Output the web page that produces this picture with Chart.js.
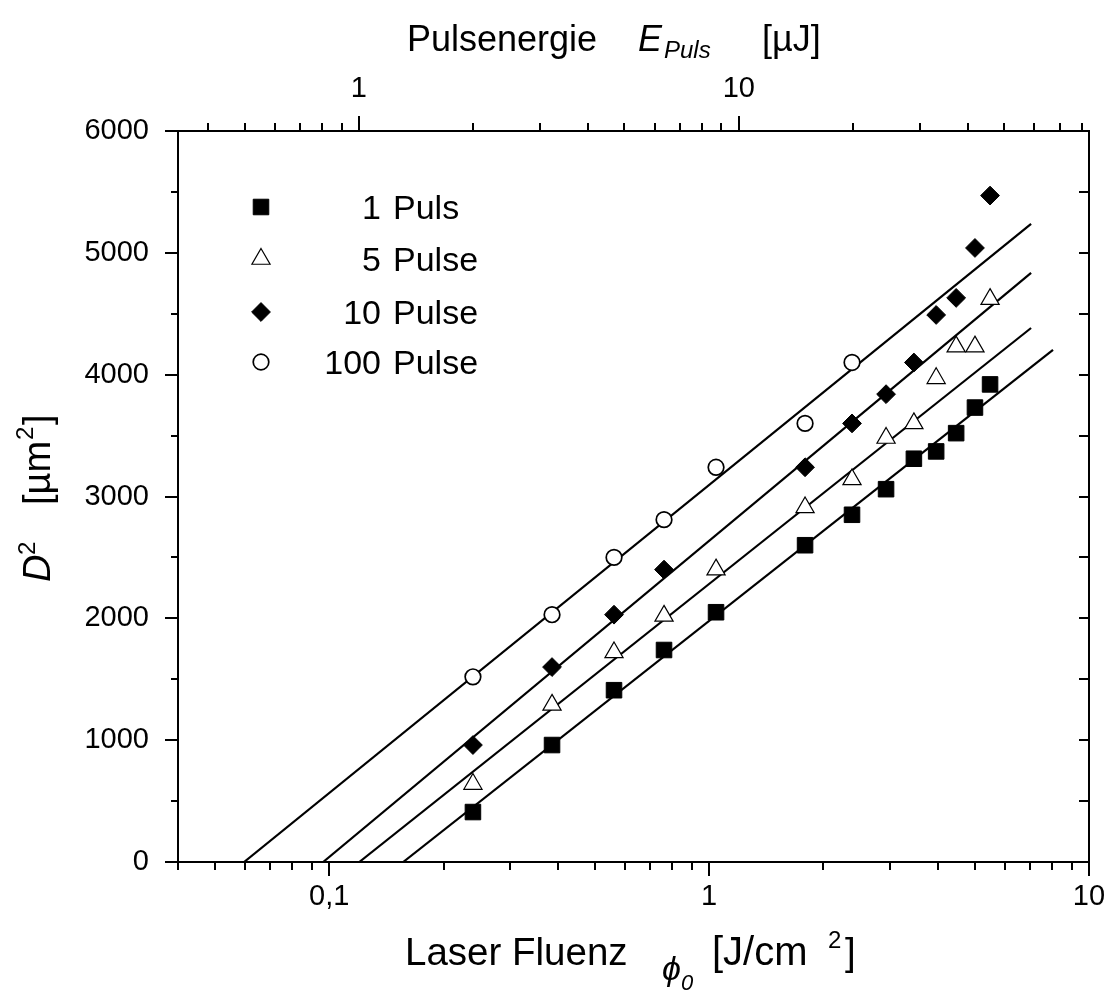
<!DOCTYPE html>
<html><head><meta charset="utf-8">
<script src="https://cdn.jsdelivr.net/npm/chart.js@4.4.1/dist/chart.umd.min.js"></script>
<style>html,body{margin:0;padding:0;background:#fff;}</style>
</head><body>
<canvas id="c" width="1112" height="998"></canvas>
<script>
// ---------- data ----------
const fluence      = [0.239, 0.386, 0.562, 0.761, 1.043, 1.789, 2.378, 2.923, 3.46, 3.96, 4.47, 5.01, 5.49];
const d2Puls1      = [410, 960, 1410, 1740, 2050, 2600, 2850, 3060, 3310, 3370, 3520, 3730, 3920];
const d2Pulse5     = [640, 1290, 1720, 2020, 2400, 2910, 3140, 3480, 3600, 3970, 4230, 4230, 4620];
const d2Pulse10    = [960, 1600, 2030, 2400, null, 3240, 3600, 3840, 4100, 4490, 4630, 5040, 5470];
const d2Pulse100   = [1520, 2030, 2500, 2810, 3240, 3600, 4100];
const seriesNames  = ['1 Puls', '5 Pulse', '10 Pulse', '100 Pulse'];

// fitted lines (start / end points)
const fitX1   = [0.1566, 8.04];  const fitY1   = [0, 4203];
const fitX5   = [0.120, 7.04];   const fitY5   = [0, 4383];
const fitX10  = [0.0964, 7.04];  const fitY10  = [0, 4835];
const fitX100 = [0.0597, 7.04];  const fitY100 = [0, 5237];

// axes
const xMin = 0.04, xMax = 10;
const energyPerFluence = 8.35;     // µJ per (J/cm²)
const xMajorTicks  = [0.1, 1, 10];
const xMajorLabels = ['0,1', '1', '10'];
const xMinorTicks  = [0.04,0.05,0.06,0.07,0.08,0.09,0.2,0.3,0.4,0.5,0.6,0.7,0.8,0.9,2,3,4,5,6,7,8,9];
const topMajorTicks  = [1, 10];
const topMajorLabels = ['1', '10'];
const topMinorTicks  = [0.4,0.5,0.6,0.7,0.8,0.9,2,3,4,5,6,7,8,9,20,30,40,50,60,70,80];
const yMajorTicks  = [0, 1000, 2000, 3000, 4000, 5000, 6000];
const yMajorLabels = ['0', '1000', '2000', '3000', '4000', '5000', '6000'];
const yMinorTicks  = [500, 1500, 2500, 3500, 4500, 5500];

// ---------- helpers ----------
const FONT = "'Liberation Sans', Arial, Helvetica, sans-serif";
const pts = (xs, ys) => xs.map((x, i) => ({x, y: ys[i]})).filter(p => p.y !== null && p.y !== undefined);

function markerDs(label, data, style, radius, fill, bw) {
  return { label, data, showLine: false, pointStyle: style, pointRadius: radius,
    pointBackgroundColor: fill, pointBorderColor: '#000', pointBorderWidth: bw, order: 0 };
}
function fitDs(xs, ys) {
  return { label: '', data: pts(xs, ys), type: 'line', showLine: true, pointRadius: 0,
    borderColor: '#000', borderWidth: 2.2, fill: false, order: 1 };
}

function drawMarker(ctx, style, x, y, r, fill, bw) {
  ctx.beginPath();
  if (style === 'rect') { const s = r * Math.SQRT1_2; ctx.rect(x - s, y - s, 2 * s, 2 * s); }
  else if (style === 'rectRot') { ctx.moveTo(x - r, y); ctx.lineTo(x, y - r); ctx.lineTo(x + r, y); ctx.lineTo(x, y + r); ctx.closePath(); }
  else if (style === 'triangle') {
    for (let k = 0; k < 3; k++) { const a = k * 2 * Math.PI / 3; const px = x + Math.sin(a) * r, py = y - Math.cos(a) * r; k ? ctx.lineTo(px, py) : ctx.moveTo(px, py); }
    ctx.closePath();
  } else { ctx.arc(x, y, r, 0, Math.PI * 2); }
  ctx.fillStyle = fill; ctx.fill();
  ctx.lineWidth = bw; ctx.strokeStyle = '#000'; ctx.stroke();
}
function txt(ctx, s, x, y, size, italic, align) {
  ctx.font = (italic ? 'italic ' : '') + size + 'px ' + FONT;
  ctx.textAlign = align || 'left'; ctx.textBaseline = 'alphabetic'; ctx.fillStyle = '#000';
  ctx.fillText(s, x, y);
  return x + ctx.measureText(s).width;
}

const decor = {
  id: 'decor',
  afterDraw(chart) {
    const {ctx, chartArea: a, scales} = chart;
    ctx.save();
    ctx.strokeStyle = '#000'; ctx.lineWidth = 2; ctx.lineCap = 'butt';
    const line = (x0, y0, x1, y1) => { ctx.beginPath(); ctx.moveTo(x0, y0); ctx.lineTo(x1, y1); ctx.stroke(); };
    // bottom ticks (outward)
    xMajorTicks.forEach(v => { const p = Math.round(scales.x.getPixelForValue(v)); line(p, a.bottom, p, a.bottom + 14); });
    xMinorTicks.forEach(v => { const p = Math.round(scales.x.getPixelForValue(v)); line(p, a.bottom, p, a.bottom + 8); });
    // top ticks (outward)
    topMajorTicks.forEach(v => { const p = Math.round(scales.x2.getPixelForValue(v)); line(p, a.top, p, a.top - 15); });
    topMinorTicks.forEach(v => { const p = Math.round(scales.x2.getPixelForValue(v)); line(p, a.top, p, a.top - 8); });
    // left ticks (outward)
    yMajorTicks.forEach(v => { const p = Math.round(scales.y.getPixelForValue(v)); line(a.left, p, a.left - 13, p); });
    yMinorTicks.forEach(v => { const p = Math.round(scales.y.getPixelForValue(v)); line(a.left, p, a.left - 7, p); });
    // right ticks (inward)
    yMajorTicks.concat(yMinorTicks).forEach(v => { const p = Math.round(scales.y2.getPixelForValue(v)); line(a.right, p, a.right - 10, p); });

    // legend
    const lys = [207, 259, 312, 362];
    chart.data.datasets.forEach((ds, i) => {
      if (i > 3) return;
      drawMarker(ctx, ds.pointStyle, 261, lys[i], ds.pointRadius, ds.pointBackgroundColor, ds.pointBorderWidth);
      const parts = ds.label.split(' ');
      txt(ctx, parts[0], 381, lys[i] + 12, 34, false, 'right');
      txt(ctx, parts[1], 393, lys[i] + 12, 34, false, 'left');
    });

    // top title
    txt(ctx, 'Pulsenergie', 407, 51, 36, false);
    txt(ctx, 'E', 638, 51, 36, true);
    txt(ctx, 'Puls', 664, 58, 24, true);
    txt(ctx, '[µJ]', 762, 51, 36, false);

    // bottom title
    txt(ctx, 'Laser Fluenz', 405, 965, 38.5, false);
    txt(ctx, 'ϕ', 662, 980, 34, true);
    txt(ctx, '0', 681, 990, 22, true);
    txt(ctx, '[J/cm', 712, 965, 40, false);
    txt(ctx, '2', 828, 948, 24, false);
    txt(ctx, ']', 845, 965, 38.5, false);

    // y title (rotated)
    ctx.save();
    ctx.translate(50, 582);
    ctx.rotate(-Math.PI / 2);
    txt(ctx, 'D', 0, 0, 38, true);
    txt(ctx, '2', 27, -15, 24, false);
    txt(ctx, '[µm', 77, 0, 38, false);
    txt(ctx, '2', 142, -17, 24, false);
    txt(ctx, ']', 157, 0, 38, false);
    ctx.restore();

    ctx.restore();
  }
};

const axisBorder = {display: true, color: '#000', width: 2};
const noGrid = {drawOnChartArea: false, drawTicks: false};
const zeroSidePad = s => { s.paddingLeft = 0; s.paddingRight = 0; };
const zeroVertPad = s => { s.paddingTop = 0; s.paddingBottom = 0; };

new Chart(document.getElementById('c'), {
  type: 'scatter',
  data: {
    datasets: [
      markerDs(seriesNames[0], pts(fluence, d2Puls1), 'rect', 11, '#000', 1),
      markerDs(seriesNames[1], pts(fluence, d2Pulse5), 'triangle', 10.5, '#fff', 1.2),
      markerDs(seriesNames[2], pts(fluence, d2Pulse10), 'rectRot', 9.4, '#000', 1),
      markerDs(seriesNames[3], pts(fluence, d2Pulse100), 'circle', 7.8, '#fff', 1.7),
      fitDs(fitX1, fitY1), fitDs(fitX5, fitY5), fitDs(fitX10, fitY10), fitDs(fitX100, fitY100)
    ]
  },
  options: {
    responsive: false, animation: false, devicePixelRatio: 1,
    layout: {padding: 0},
    plugins: {legend: {display: false}, tooltip: {enabled: false}},
    scales: {
      x: {
        type: 'logarithmic', position: 'bottom', min: xMin, max: xMax, bounds: 'data',
        afterBuildTicks: s => { s.ticks = xMajorTicks.map(v => ({value: v})); },
        afterFit: s => { s.height = 136; zeroSidePad(s); },
        ticks: {autoSkip: false, maxRotation: 0, minRotation: 0, padding: 18, color: '#000',
          font: {family: FONT, size: 29}, callback: (v, i) => xMajorLabels[i]},
        grid: noGrid, border: axisBorder
      },
      x2: {
        type: 'logarithmic', position: 'top', bounds: 'data',
        min: xMin * energyPerFluence, max: xMax * energyPerFluence,
        afterBuildTicks: s => { s.ticks = topMajorTicks.map(v => ({value: v})); },
        afterFit: s => { s.height = 131; zeroSidePad(s); },
        ticks: {autoSkip: false, maxRotation: 0, minRotation: 0, padding: 25, color: '#000',
          font: {family: FONT, size: 29}, callback: (v, i) => topMajorLabels[i]},
        grid: noGrid, border: axisBorder
      },
      y: {
        type: 'linear', position: 'left', min: 0, max: 6000,
        afterBuildTicks: s => { s.ticks = yMajorTicks.map(v => ({value: v})); },
        afterFit: s => { s.width = 178; zeroVertPad(s); },
        ticks: {autoSkip: false, padding: 29, color: '#000',
          font: {family: FONT, size: 29}, callback: (v, i) => yMajorLabels[i]},
        grid: noGrid, border: axisBorder
      },
      y2: {
        type: 'linear', position: 'right', min: 0, max: 6000,
        afterFit: s => { s.width = 23; zeroVertPad(s); },
        ticks: {display: false},
        grid: noGrid, border: axisBorder
      }
    }
  },
  plugins: [decor]
});
</script>
</body></html>
